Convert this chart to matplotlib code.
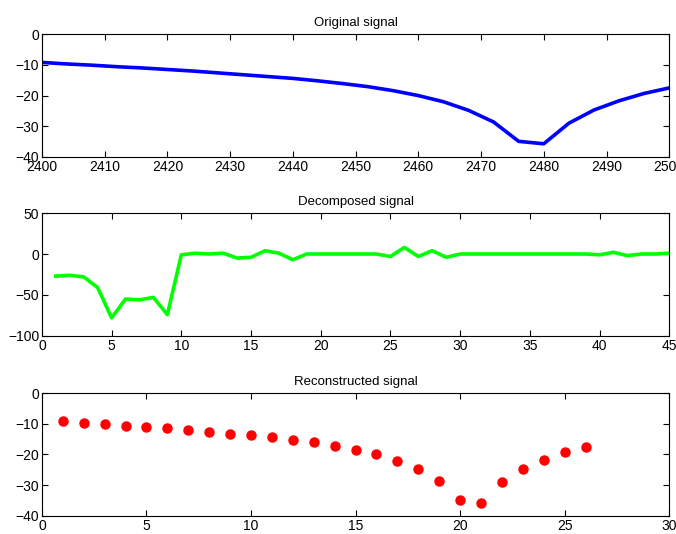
import numpy as np
import matplotlib.pyplot as plt

# reconstructed signal samples
recon = [-9.2, -9.7, -10.1, -10.6, -11.0, -11.5, -12.0, -12.6, -13.2, -13.8,
         -14.4, -15.2, -16.1, -17.1, -18.4, -20.0, -22.0, -24.8, -28.6, -34.9,
         -35.7, -29.0, -24.7, -21.7, -19.3, -17.5]
recon_idx = np.arange(1, len(recon) + 1)

# original signal: same samples, every 4 units from 2400
orig_x = 2400 + 4 * (recon_idx - 1)
orig = recon

# decomposed coefficients
decomp = [-27, -26, -28, -41, -78, -55, -56, -53, -74, -1,
          1, 0, 1, -5, -4, 4, 1, -7, 0, 0,
          0, 0, 0, 0, -3, 8, -3, 4, -4, 0,
          0, 0, 0, 0, 0, 0, 0, 0, 0, -1,
          2, -2, 0, 0, 1]
decomp_idx = np.arange(1, len(decomp) + 1)

plt.rcParams['font.family'] = ['Liberation Sans', 'DejaVu Sans']
plt.rcParams['font.size'] = 10

fig = plt.figure(figsize=(6.76, 5.34), dpi=100)
ax1 = fig.add_axes([0.062, 0.706, 0.928, 0.230])
ax2 = fig.add_axes([0.062, 0.371, 0.928, 0.230])
ax3 = fig.add_axes([0.062, 0.034, 0.928, 0.230])

ax1.plot(orig_x, orig, color='#0000ff', lw=2.6)
ax1.set_xlim(2400, 2500)
ax1.set_ylim(-40, 0)
ax1.set_xticks(np.arange(2400, 2501, 10))
ax1.set_yticks(np.arange(-40, 1, 10))
ax1.set_title("Original signal", fontsize=9.5, pad=6)

ax2.plot(decomp_idx, decomp, color='#00ff00', lw=2.6)
ax2.set_xlim(0, 45)
ax2.set_ylim(-100, 50)
ax2.set_xticks(np.arange(0, 46, 5))
ax2.set_yticks([-100, -50, 0, 50])
ax2.set_title("Decomposed signal", fontsize=9.5, pad=6)

ax3.plot(recon_idx, recon, 'o', color='#ff0000', markersize=6.5)
ax3.set_xlim(0, 30)
ax3.set_ylim(-40, 0)
ax3.set_xticks(np.arange(0, 31, 5))
ax3.set_yticks(np.arange(-40, 1, 10))
ax3.set_title("Reconstructed signal", fontsize=9.5, pad=6)

for ax in (ax1, ax2, ax3):
    ax.tick_params(direction='in', top=True, right=True, length=4, labelsize=10, pad=2)
    for s in ax.spines.values():
        s.set_linewidth(0.8)

fig.savefig("out.png", dpi=100)
